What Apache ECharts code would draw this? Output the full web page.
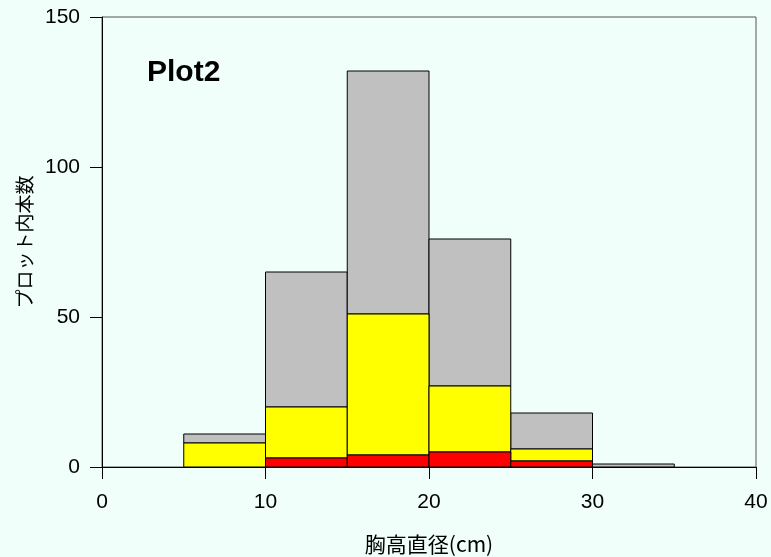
<!DOCTYPE html>
<html>
<head>
<meta charset="utf-8">
<script src="https://cdn.jsdelivr.net/npm/echarts@6/dist/echarts.min.js"></script>
<style>html,body{margin:0;padding:0;background:#f0fffa;}#c{width:771px;height:557px;}</style>
</head>
<body>
<div id="c"></div>
<script>
const binStart = [5, 10, 15, 20, 25, 30];
const binEnd = [10, 15, 20, 25, 30, 35];
const redVals = [0, 3, 4, 5, 2, 0];
const yellowVals = [8, 17, 47, 22, 4, 0];
const grayVals = [3, 45, 81, 49, 12, 1];
const xTicks = [0, 10, 20, 30, 40];
const yTicks = [0, 50, 100, 150];

const chart = echarts.init(document.getElementById('c'));

function makeData(vals, below) {
  return vals.map((v, i) => {
    let base = 0;
    below.forEach(b => base += b[i]);
    return [binStart[i], binEnd[i], base, base + v];
  }).filter(d => d[3] > d[2]);
}

function renderRect(params, api) {
  const p0 = api.coord([api.value(0), api.value(2)]);
  const p1 = api.coord([api.value(1), api.value(3)]);
  return {
    type: 'rect',
    shape: { x: p0[0], y: p1[1], width: p1[0] - p0[0], height: p0[1] - p1[1] },
    style: api.style({ stroke: '#000', lineWidth: 1 })
  };
}

const FONT = 'Liberation Sans, Arial, sans-serif';

chart.setOption({
  backgroundColor: '#f0fffa',
  animation: false,
  title: {
    text: 'Plot2', left: 142, top: 53,
    textStyle: { fontFamily: FONT, fontWeight: 'bold', fontSize: 30, color: '#000' }
  },
  grid: {
    left: 102, right: 15, top: 17, bottom: 90,
    outerBoundsMode: 'none', containLabel: false,
    show: true, borderColor: '#555', borderWidth: 1, backgroundColor: 'transparent'
  },
  xAxis: {
    type: 'value', min: 0, max: 40, interval: 10,
    name: '胸高直径(cm)', nameLocation: 'middle', nameGap: 67,
    nameTextStyle: { fontFamily: 'Noto Sans CJK JP, sans-serif', fontSize: 21, color: '#000' },
    axisLine: { show: true, lineStyle: { color: '#000', width: 1 } },
    axisTick: { show: true, length: 12, lineStyle: { color: '#000' } },
    axisLabel: { fontFamily: FONT, fontSize: 21, color: '#000', margin: 25,
      formatter: v => xTicks.includes(v) ? String(v) : '' },
    splitLine: { show: false }
  },
  yAxis: {
    type: 'value', min: 0, max: 150, interval: 50,
    name: 'プロット内本数', nameLocation: 'middle', nameGap: 68, nameRotate: 90,
    nameTextStyle: { fontFamily: 'Noto Sans CJK JP, sans-serif', fontSize: 19, color: '#000' },
    axisLine: { show: true, lineStyle: { color: '#000', width: 1 } },
    axisTick: { show: true, length: 12, lineStyle: { color: '#000' } },
    axisLabel: { fontFamily: FONT, fontSize: 21, color: '#000', margin: 22,
      formatter: v => yTicks.includes(v) ? String(v) : '' },
    splitLine: { show: false }
  },
  series: [
    { type: 'custom', name: 'gray', renderItem: renderRect, itemStyle: { color: '#c0c0c0' },
      data: makeData(grayVals, [redVals, yellowVals]), encode: { x: [0, 1], y: [2, 3] } },
    { type: 'custom', name: 'yellow', renderItem: renderRect, itemStyle: { color: '#ffff00' },
      data: makeData(yellowVals, [redVals]), encode: { x: [0, 1], y: [2, 3] } },
    { type: 'custom', name: 'red', renderItem: renderRect, itemStyle: { color: '#ff0000' },
      data: makeData(redVals, []), encode: { x: [0, 1], y: [2, 3] } }
  ]
});
</script>
</body>
</html>
